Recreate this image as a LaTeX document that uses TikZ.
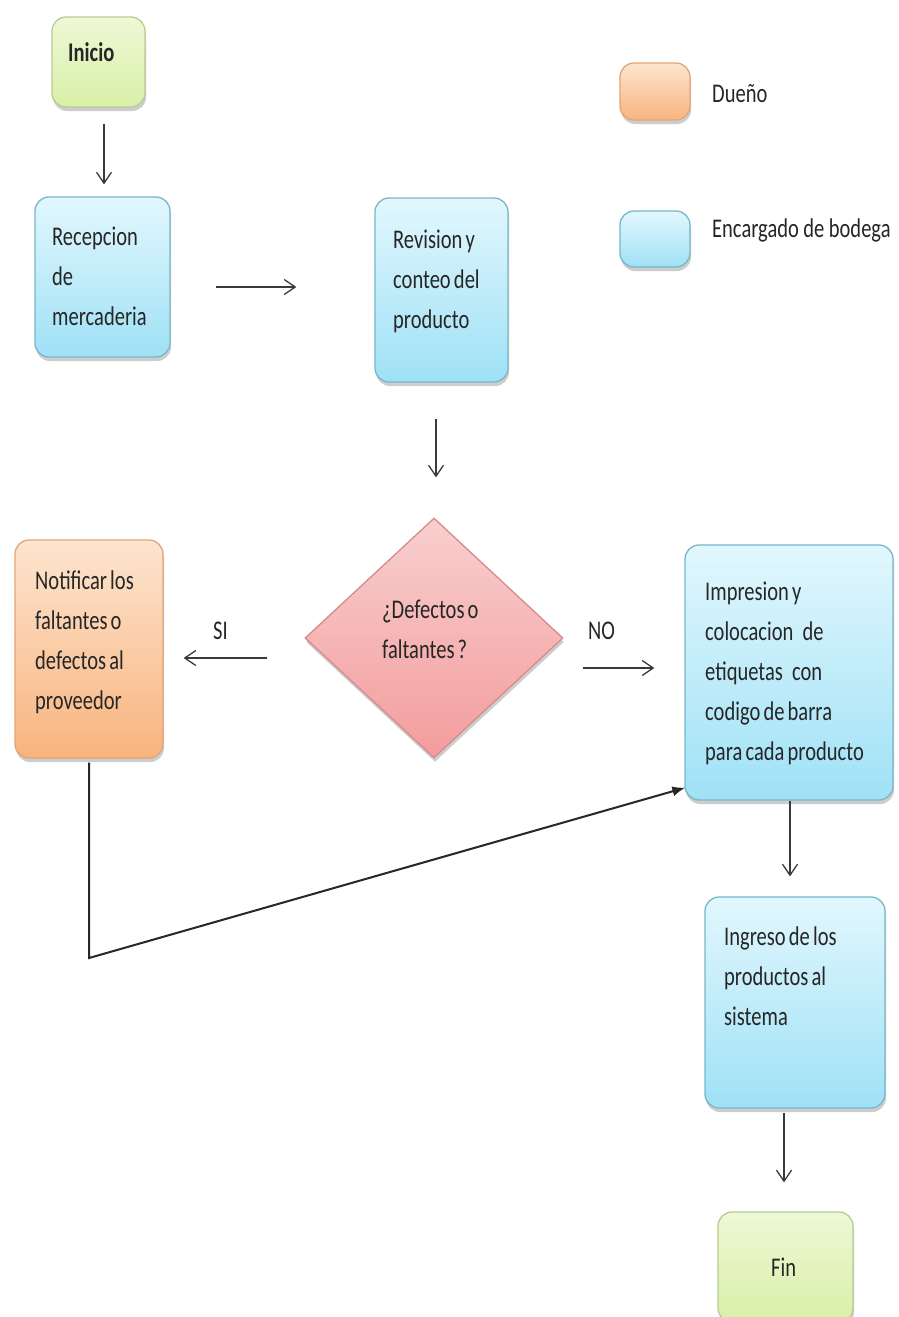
\documentclass[tikz,border=0pt]{standalone}
\usepackage{fontspec}
\setmainfont{Carlito}[FakeStretch=0.76]
\usetikzlibrary{shapes.geometric,arrows.meta,shadows}

\definecolor{ink}{HTML}{262626}
\definecolor{wire}{HTML}{3A3A3A}
\definecolor{greenTop}{HTML}{EEF8D6}
\definecolor{greenBot}{HTML}{D8F0A8}
\definecolor{greenLine}{HTML}{B9CC92}
\definecolor{blueTop}{HTML}{E2F7FD}
\definecolor{blueBot}{HTML}{9FE1F6}
\definecolor{blueLine}{HTML}{78B6CA}
\definecolor{orangeTop}{HTML}{FDE5CF}
\definecolor{orangeBot}{HTML}{F8B47E}
\definecolor{orangeLine}{HTML}{E3A576}
\definecolor{pinkTop}{HTML}{F9CFCF}
\definecolor{pinkBot}{HTML}{F39C9C}
\definecolor{pinkLine}{HTML}{D48C8C}

% condensed Calibri-like text with tight word spacing
\newcommand{\boxfont}{\fontsize{27}{40}\selectfont\spaceskip=3.2pt\relax}
\newcommand{\legendfont}{\fontsize{27}{40}\selectfont\spaceskip=4.5pt\relax}
\newcommand{\startfont}{\fontsize{27}{40}\selectfont\bfseries}

\tikzset{
  softshadow/.style={drop shadow={shadow xshift=1pt,shadow yshift=-4pt,opacity=.28,fill=black!70}},
  card/.style={rectangle, rounded corners=14pt, line width=1.3pt, inner sep=0pt, softshadow},
  startend/.style={card, draw=greenLine, top color=greenTop, bottom color=greenBot},
  worker/.style={card, draw=blueLine, top color=blueTop, bottom color=blueBot},
  owner/.style={card, draw=orangeLine, top color=orangeTop, bottom color=orangeBot},
  decision/.style={diamond, draw=pinkLine, line width=1.3pt, top color=pinkTop, bottom color=pinkBot,
    inner sep=0pt, minimum width=258pt, minimum height=240pt, softshadow},
  txt/.style={anchor=base west, inner sep=0pt, text width=230pt, align=flush left,
    font=\boxfont, text=ink},
  flow/.style={draw=wire, line width=1.3pt, -{Straight Barb[length=11pt,width=15pt]}},
  loopback/.style={draw=black!85, line width=2pt, -{Latex[length=13pt,width=10pt]}}
}

\begin{document}
\begin{tikzpicture}[x=1pt,y=-1pt]
\useasboundingbox (0,0) rectangle (898,1317);
\fill[white] (0,0) rectangle (898,1317);

% process boxes
\node[startend, minimum width=93pt,  minimum height=90pt]  (inicio)  at (98.5,62)    {};
\node[worker,   minimum width=135pt, minimum height=160pt] (recep)   at (102.5,277)  {};
\node[worker,   minimum width=133pt, minimum height=184pt] (revis)   at (441.5,290)  {};
\node[decision]                                           (defect)  at (434,638)    {};
\node[owner,    minimum width=148pt, minimum height=218pt] (notif)   at (89,649)     {};
\node[worker,   minimum width=208pt, minimum height=255pt] (impr)    at (789,672.5)  {};
\node[worker,   minimum width=180pt, minimum height=211pt] (ingreso) at (795,1002.5) {};
\node[startend, minimum width=135pt, minimum height=110pt] (fin)     at (785.5,1267) {};

% legend
\node[owner,  minimum width=70pt, minimum height=57pt] (keyowner)  at (655,91.5) {};
\node[worker, minimum width=70pt, minimum height=56pt] (keyworker) at (655,239)  {};
\node[txt, font=\legendfont] (keyownertxt)  at (712,102) {Dueño};
\node[txt, font=\legendfont] (keyworkertxt) at (712,237) {Encargado de bodega};

% box texts
\node[txt, font=\startfont] (inicioTxt) at (68,61) {Inicio};
\node[txt] (recepTxt)   at (52,245)  {Recepcion\\de\\mercaderia};
\node[txt] (revisTxt)   at (393,248) {Revision y\\conteo del\\producto};
\node[txt] (defectTxt)  at (382,618) {¿Defectos o\\faltantes ?};
\node[txt] (notifTxt)   at (35,589)  {Notificar los\\faltantes o\\defectos al\\proveedor};
\node[txt] (imprTxt)    at (705,600) {Impresion y\\colocacion\hspace{6pt} de\\etiquetas\hspace{6pt} con\\codigo de barra\\para cada producto};
\node[txt] (ingresoTxt) at (724,945) {Ingreso de los\\productos al\\sistema};
\node[txt] (finTxt)     at (771,1276) {Fin};

% connectors
\draw[flow] ([xshift=5.5pt,yshift=-16pt]inicio.south) -- ([xshift=1.5pt,yshift=12pt]recep.north);
\draw[flow] ([xshift=45pt,yshift=-10pt]recep.east) -- ([xshift=-78pt,yshift=3pt]revis.west);
\draw[flow] ([xshift=-5.5pt,yshift=-36pt]revis.south) -- ([xshift=2pt,yshift=40pt]defect.north);
\draw[flow] ([xshift=-37pt,yshift=-20pt]defect.west) -- ([xshift=20pt,yshift=-9pt]notif.east);
\node[txt] (siTxt) at (213,639) {SI};
\draw[flow] ([xshift=19pt,yshift=-30pt]defect.east) -- ([xshift=-30pt,yshift=4.5pt]impr.west);
\node[txt] (noTxt) at (588,639) {NO};
\coordinate (bend) at (89,958);
\draw[loopback] ([yshift=-4pt]notif.south) -- (bend) -- ([xshift=1pt,yshift=13pt]impr.south west);
\draw[flow] ([xshift=1pt]impr.south) -- ([xshift=-5pt,yshift=20pt]ingreso.north);
\draw[flow] ([xshift=-11pt,yshift=-4pt]ingreso.south) -- ([xshift=-1.5pt,yshift=29pt]fin.north);
\end{tikzpicture}
\end{document}
